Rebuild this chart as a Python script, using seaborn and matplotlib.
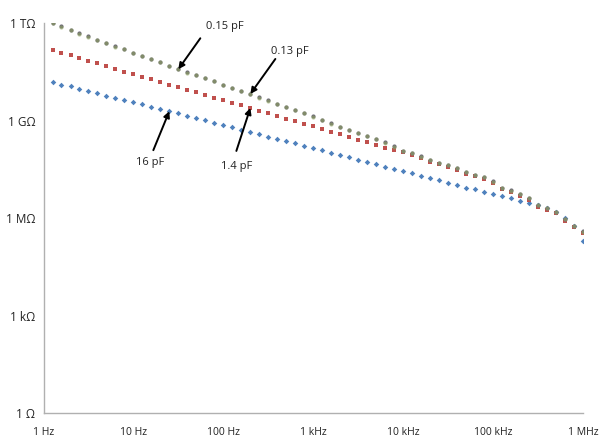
import numpy as np
import pandas as pd
import matplotlib
matplotlib.use("Agg")
import matplotlib.pyplot as plt
import seaborn as sns

# ---- data ----
freq_hz = [1.26, 1.58, 2.00, 2.51, 3.16, 3.98, 5.01, 6.31, 7.94, 10.0,
           12.6, 15.8, 20.0, 25.1, 31.6, 39.8, 50.1, 63.1, 79.4, 100,
           126, 158, 200, 251, 316, 398, 501, 631, 794, 1e3,
           1.26e3, 1.58e3, 2.00e3, 2.51e3, 3.16e3, 3.98e3, 5.01e3, 6.31e3, 7.94e3, 1e4,
           1.26e4, 1.58e4, 2.00e4, 2.51e4, 3.16e4, 3.98e4, 5.01e4, 6.31e4, 7.94e4, 1e5,
           1.26e5, 1.58e5, 2.00e5, 2.51e5, 3.16e5, 3.98e5, 5.01e5, 6.31e5, 7.94e5, 1e6]

# impedance, log10(ohm)
blue_16pF = [10.20, 10.12, 10.06, 9.99, 9.92, 9.85, 9.77, 9.70, 9.64, 9.57,
             9.51, 9.43, 9.36, 9.30, 9.23, 9.16, 9.09, 9.02, 8.95, 8.87,
             8.80, 8.73, 8.66, 8.59, 8.52, 8.45, 8.38, 8.31, 8.24, 8.17,
             8.09, 8.02, 7.95, 7.88, 7.80, 7.73, 7.66, 7.59, 7.52, 7.46,
             7.39, 7.31, 7.24, 7.17, 7.10, 7.03, 6.95, 6.89, 6.82, 6.75,
             6.69, 6.62, 6.54, 6.48, 6.41, 6.31, 6.20, 6.00, 5.76, 5.31]

red_1p4pF = [11.18, 11.10, 11.02, 10.93, 10.85, 10.77, 10.69, 10.60, 10.52, 10.44,
             10.36, 10.28, 10.19, 10.11, 10.04, 9.96, 9.88, 9.80, 9.72, 9.64,
             9.56, 9.48, 9.40, 9.32, 9.23, 9.15, 9.07, 8.99, 8.91, 8.83,
             8.75, 8.67, 8.59, 8.50, 8.42, 8.34, 8.26, 8.18, 8.11, 8.03,
             7.95, 7.85, 7.75, 7.67, 7.59, 7.49, 7.37, 7.29, 7.22, 7.08,
             6.90, 6.80, 6.70, 6.57, 6.36, 6.26, 6.16, 5.93, 5.72, 5.54]

purple_0p13pF = [12.01, 11.91, 11.80, 11.70, 11.60, 11.49, 11.39, 11.30, 11.20, 11.10,
                 11.00, 10.90, 10.80, 10.70, 10.60, 10.50, 10.41, 10.32, 10.22, 10.12,
                 10.02, 9.92, 9.83, 9.73, 9.63, 9.53, 9.43, 9.33, 9.24, 9.14,
                 9.03, 8.93, 8.82, 8.72, 8.64, 8.54, 8.44, 8.34, 8.23, 8.07,
                 8.01, 7.91, 7.80, 7.72, 7.65, 7.55, 7.43, 7.34, 7.27, 7.14,
                 6.95, 6.86, 6.76, 6.63, 6.42, 6.32, 6.21, 5.99, 5.77, 5.60]

green_0p15pF = [12.00, 11.90, 11.79, 11.69, 11.59, 11.49, 11.39, 11.29, 11.20, 11.10,
                10.99, 10.90, 10.80, 10.70, 10.59, 10.49, 10.41, 10.32, 10.22, 10.12,
                10.02, 9.92, 9.82, 9.72, 9.62, 9.52, 9.43, 9.33, 9.23, 9.13,
                9.02, 8.92, 8.81, 8.72, 8.63, 8.53, 8.43, 8.33, 8.21, 8.06,
                8.00, 7.90, 7.79, 7.71, 7.64, 7.54, 7.42, 7.33, 7.26, 7.13,
                6.94, 6.85, 6.75, 6.62, 6.41, 6.31, 6.20, 5.98, 5.76, 5.59]

x_tick_vals = [1, 10, 100, 1e3, 1e4, 1e5, 1e6]
x_tick_labels = ["1 Hz", "10 Hz", "100 Hz", "1 kHz", "10 kHz", "100 kHz", "1 MHz"]
y_tick_vals = [10.0 ** k for k in range(13)]
y_tick_labels = {0: "1 Ω", 3: "1 kΩ", 6: "1 MΩ", 9: "1 GΩ", 12: "1 TΩ"}

series = [
    ("16 pF", blue_16pF, "#4F81BD", "D", 1.0, 8),
    ("1.4 pF", red_1p4pF, "#C0504D", "s", 1.0, 7),
    ("0.13 pF", purple_0p13pF, "#6E6A78", "o", 1.0, 9),
    ("0.15 pF", green_0p15pF, "#8FA262", "o", 0.6, 9),
]

sns.set_style("white")
plt.rcParams["font.family"] = ["Open Sans", "DejaVu Sans"]

fig = plt.figure(figsize=(6.0, 4.41), dpi=100)
ax = fig.add_axes([0.0725, 0.0628, 0.899, 0.884])

for name, vals, col, mk, al, sz in series:
    df = pd.DataFrame({"f": freq_hz, "Z": [10.0 ** v for v in vals]})
    sns.scatterplot(data=df, x="f", y="Z", color=col, marker=mk, s=sz,
                    linewidth=0, alpha=al, ax=ax, legend=False, zorder=3)

ax.set_xscale("log")
ax.set_yscale("log")
ax.set_xlim(1, 1e6)
ax.set_ylim(1, 1e12)
ax.set_xlabel("")
ax.set_ylabel("")

ax.set_xticks(x_tick_vals)
ax.set_xticklabels(x_tick_labels)
ax.xaxis.set_minor_locator(matplotlib.ticker.NullLocator())
ax.set_yticks(y_tick_vals)
ax.set_yticklabels([y_tick_labels.get(k, "") for k in range(13)])
ax.yaxis.set_minor_locator(matplotlib.ticker.NullLocator())

for s in ["top", "right"]:
    ax.spines[s].set_visible(False)
for s in ["left", "bottom"]:
    ax.spines[s].set_color("#b0b0b0")
    ax.spines[s].set_linewidth(1.0)

ax.tick_params(axis="y", which="major", direction="out", length=4, width=1,
               color="#b0b0b0", labelsize=8.5, labelcolor="#222222", pad=2)
ax.tick_params(axis="x", which="major", direction="in", length=3, width=1,
               color="#b0b0b0", labelsize=7.5, labelcolor="#222222", pad=10)
ax.grid(False)

# annotations: (label, series, index, tail offset px, text offset px)
annots = [
    ("0.15 pF", green_0p15pF, 14, (22, 31), (46, 43)),
    ("0.13 pF", purple_0p13pF, 22, (25, 35), (39, 42)),
    ("16 pF", blue_16pF, 13, (-16, -39), (-19, -51)),
    ("1.4 pF", red_1p4pF, 22, (-14, -43), (-14, -59)),
]
for label, vals, idx, tail, txt in annots:
    xy = (freq_hz[idx], 10.0 ** vals[idx])
    ax.annotate("", xy=xy, xytext=tail, textcoords="offset pixels",
                arrowprops=dict(arrowstyle="-|>", color="black", lw=1.4,
                                mutation_scale=9, shrinkA=0, shrinkB=0),
                zorder=5)
    ax.annotate(label, xy=xy, xytext=txt, textcoords="offset pixels",
                ha="center", va="center", fontsize=8, color="#222222",
                zorder=5)

fig.savefig("out.png", dpi=100)
